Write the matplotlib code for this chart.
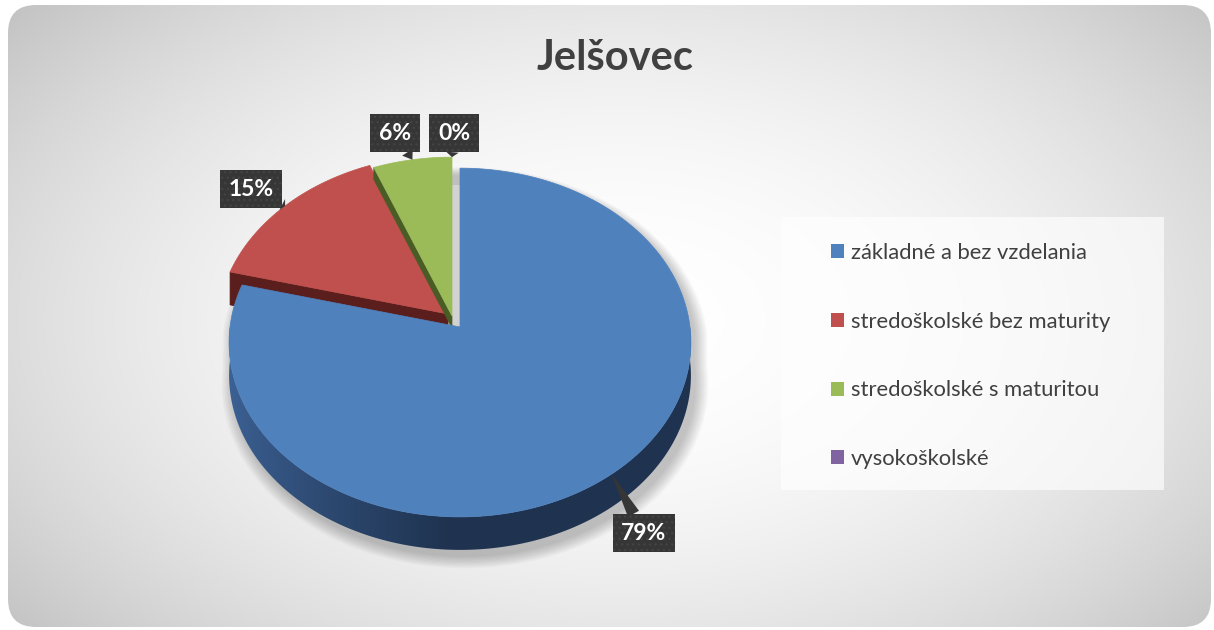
import numpy as np
import matplotlib
matplotlib.use('Agg')
import matplotlib.pyplot as plt
from matplotlib.patches import Polygon, Rectangle, FancyBboxPatch, Patch
import matplotlib.colors as mcolors

# ---------------- data ----------------
title = 'Jelšovec'
categories = ['základné a bez vzdelania', 'stredoškolské bez maturity',
              'stredoškolské s maturitou', 'vysokoškolské']
shares = [79, 15, 6, 0]
label_texts = ['79%', '15%', '6%', '0%']

# ---------------- style ----------------
colors = ['#4f81bd', '#c0504d', '#9bbb59', '#8064a2']
wall_dark = ['#1f3350', '#5a1e1c', '#4a5c25', '#3f2f55']
wall_light = ['#3c6194', '#5a1e1c', '#4a5c25', '#3f2f55']
FONT = ['Lato', 'DejaVu Sans']

W, H = 1214, 630
fig = plt.figure(figsize=(W / 100, H / 100), dpi=100)
ax = fig.add_axes([0, 0, 1, 1])

# ---------------- background card ----------------
card = FancyBboxPatch((8, 5), 1203, 622, boxstyle='round,pad=0,rounding_size=28',
                      fc='none', ec='none')
ax.add_patch(card)
yy, xx = np.mgrid[0:H, 0:W]
rr = np.sqrt(((xx - 620) / 700.0) ** 2 + ((yy - 320) / 420.0) ** 2)
v = np.clip(1 - 0.18 * rr ** 2, 0, 1)
img = np.dstack([v, v, v])
im = ax.imshow(img, extent=(0, W, H, 0), zorder=0, interpolation='bilinear')
im.set_clip_path(card)

# ---------------- pie geometry ----------------
CX, CY, A, B, K, DEPTH = 460, 327, 173, 230, 0.089, 33
offsets = [(0, 0), (-12, -13), (-8, -11), (-8, -11)]
label_pos = [(644, 533), (251, 189), (395, 133), (454, 133)]
draw_order = [1, 2, 3, 0]


def proj(theta, rad=1.0, off=(0, 0)):
    t = np.radians(theta)
    X = rad * np.cos(t)
    Z = rad * np.sin(t)
    s = 1 + K * Z
    return CX + B * X / s + off[0], CY - A * Z / s + off[1]


total = float(sum(shares))
bounds = []
start = 90.0
for sh in shares:
    end = start - 360.0 * sh / total
    bounds.append((start, end))
    start = end
mids = [(b[0] + b[1]) / 2 for b in bounds]

# soft shadow
th = np.linspace(0, 360, 361)
for i in range(10):
    rad = 1.0 + 0.006 * i
    xs, ys = proj(th, rad, off=(5, 7))
    ys = np.where(np.sin(np.radians(th)) < 0, ys + DEPTH, ys)
    ax.add_patch(Polygon(np.column_stack([xs, ys]), closed=True, fc='#000000',
                         ec='none', alpha=0.025, zorder=1))

# light strip between green and blue
ax.add_patch(Rectangle((451, 185), 9, 142, fc='#d2d2d2', ec='none', zorder=2))


def draw_slice(i, z, wall_depth=DEPTH):
    t0, t1 = bounds[i]
    if t0 - t1 <= 0:
        return
    off = offsets[i]
    ax_x, ax_y = proj(0, 0, off)
    # radial side walls (visible when facing the viewer)
    n0z = np.cos(np.radians(t0))
    n1z = -np.cos(np.radians(t1))
    for t, nzv in ((t0, n0z), (t1, n1z)):
        if nzv < -1e-6:
            rx, ry = proj(t, 1.0, off)
            poly = [(ax_x, ax_y), (rx, ry), (rx, ry + wall_depth),
                    (ax_x, ax_y + wall_depth)]
            ax.add_patch(Polygon(poly, closed=True, fc=wall_dark[i],
                                 ec=wall_dark[i], lw=0.5, zorder=z))
    # outer wall (front half) with horizontal gradient
    for k in (-2, -1, 0, 1):
        lo = max(t1, -180 + 360 * k)
        hi = min(t0, 0 + 360 * k)
        if lo < hi:
            ts = np.linspace(hi, lo, 300)
            xa, ya = proj(ts, 1.0, off)
            pts = list(zip(xa, ya)) + list(zip(xa[::-1], ya[::-1] + DEPTH))
            wall = Polygon(pts, closed=True, fc='none', ec='none', zorder=z)
            ax.add_patch(wall)
            x0, x1 = xa.min() - 2, xa.max() + 2
            y0, y1 = ya.min() - 2, ya.max() + DEPTH + 2
            gx = np.linspace(x0, x1, 400)
            f = np.clip((gx - (CX - B)) / (CX - 10 - (CX - B)), 0, 1) ** 0.8
            cl = np.array(mcolors.to_rgb(wall_light[i]))
            cd = np.array(mcolors.to_rgb(wall_dark[i]))
            row = cl[None, :] * (1 - f[:, None]) + cd[None, :] * f[:, None]
            grad = np.repeat(row[None, :, :], 4, axis=0)
            gim = ax.imshow(grad, extent=(x0, x1, y1, y0), zorder=z,
                            interpolation='bilinear')
            gim.set_clip_path(wall)
    # top face
    ts = np.linspace(t0, t1, 200)
    xs, ys = proj(ts, 1.0, off)
    pts = [(ax_x, ax_y)] + list(zip(xs, ys))
    ax.add_patch(Polygon(pts, closed=True, fc=colors[i], ec=colors[i], lw=0.5,
                         zorder=z + 0.5))


for n, i in enumerate(draw_order):
    draw_slice(i, 3 + n, wall_depth=(DEPTH if i != 2 else 12))

# ---------------- data labels ----------------
for i, txt in enumerate(label_texts):
    tip = proj(mids[i], 1.0, offsets[i])
    ax.annotate(txt, xy=tip, xytext=label_pos[i], textcoords='data',
                ha='center', va='center', fontsize=16.5, fontweight='bold',
                color='white', family=FONT, zorder=20,
                bbox=dict(boxstyle='square,pad=0.38', fc='#363636', ec='#434343',
                          lw=0, hatch='...'),
                arrowprops=dict(arrowstyle='wedge,tail_width=0.55,shrink_factor=0.5',
                                fc='#363636', ec='none', shrinkA=0, shrinkB=0))

# ---------------- title ----------------
ax.text(615, 70, title, ha='center', va='baseline', fontsize=30,
        fontweight='bold', color='#404040', family=FONT, zorder=20)

# ---------------- legend ----------------
ax.add_patch(Rectangle((781, 217), 383, 273, fc='white', ec='none', alpha=0.65,
                       zorder=2))
handles = [Patch(fc=c, ec='none') for c in colors]
leg = ax.legend(handles, categories, loc='upper left', bbox_to_anchor=(831, 243),
                bbox_transform=ax.transData, frameon=False,
                labelspacing=2.22, handlelength=0.6, handleheight=0.6,
                handletextpad=0.32, borderpad=0, borderaxespad=0,
                labelcolor='#404040', prop={'family': FONT, 'size': 15.8})
leg.set_zorder(20)

ax.set_xlim(0, W)
ax.set_ylim(H, 0)
ax.set_aspect('auto')
ax.axis('off')
fig.savefig('out.png', dpi=100, facecolor='white')
